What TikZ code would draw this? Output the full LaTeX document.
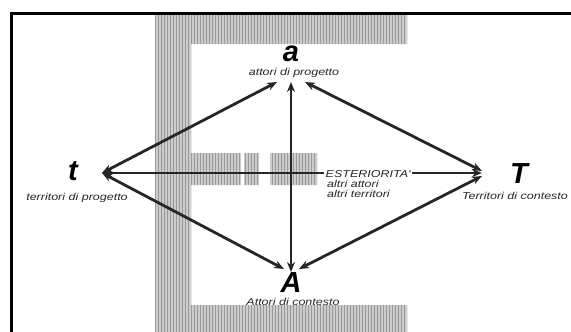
\documentclass[tikz,border=0pt]{standalone}
\usepackage{fontspec}
\setmainfont{Liberation Sans}
\newfontfamily\labfont[FakeStretch=1.25]{Liberation Sans}
\usetikzlibrary{arrows.meta}
\definecolor{arrowgray}{HTML}{262626}
\tikzset{
  big/.style={font=\fontsize{29}{29}\selectfont\bfseries\itshape, inner sep=0pt, text=black},
  lab/.style={font=\labfont\fontsize{10}{10}\selectfont\itshape, inner sep=0pt, text=black!85},
  link/.style={draw=arrowgray, line width=2.8pt, {Stealth[length=10pt,width=8pt]}-{Stealth[length=10pt,width=8pt]}},
}
\begin{document}
\begin{tikzpicture}[x=1pt,y=-1pt]
\useasboundingbox (0,0) rectangle (571,332);
\clip (0,0) rectangle (571,332);
% hatched E shape
\begin{scope}
  \clip (155,15) rectangle (191,332)
        (155,15) rectangle (407,44)
        (155,305) rectangle (407,332)
        (190,153) rectangle (241,185)
        (244,153) rectangle (259,185)
        (270,153) rectangle (317,185);
  \fill[gray!40] (150,0) rectangle (420,332);
  \foreach \x in {155.5,158.5,...,410} {
    \draw[gray!80, line width=1.4pt] (\x,0) -- (\x,332);
  }
\end{scope}
% frame
\draw[line width=3pt] (11.5,400) -- (11.5,13.5) -- (600,13.5);
% main nodes
\node[big] (a) at (291,54) {a};
\node[lab, anchor=base] (alab) at (294,75) {attori di progetto};
\node[big] (t) at (73,171) {t};
\node[lab, anchor=base] (tlab) at (77,200) {territori di progetto};
\node[big] (T) at (519,174) {T};
\node[lab, anchor=base] (Tlab) at (515,199) {Territori di contesto};
\node[big] (A) at (291,283) {A};
\node[lab, anchor=base] (Alab) at (293,305) {Attori di contesto};
% arrow end points
\coordinate (tp) at (102,173);
\coordinate (Tp) at (482,173);
\coordinate (aL) at (277,82);
\coordinate (aM) at (291,82);
\coordinate (aR) at (305,82);
\coordinate (AL) at (284,269);
\coordinate (AM) at (291,272);
\coordinate (AR) at (299,269);
\coordinate (Tu) at (482,171);
\coordinate (Td) at (482,176);
% connectors
\draw[link] (tp) -- (aL);
\draw[link] (tp) -- (AL);
\draw[link] (aR) -- (Tu);
\draw[link] (AR) -- (Td);
\draw[link] (aM) -- (AM);
\draw[link] (tp) -- (Tp);
% exteriority label
\node[lab, anchor=base west, fill=white, inner xsep=1.5pt, inner ysep=1pt] (est) at (324,177) {ESTERIORITA'};
\node[lab, anchor=base west] (oa) at (327,187) {altri attori};
\node[lab, anchor=base west] (ot) at (327,197) {altri territori};
\end{tikzpicture}
\end{document}
